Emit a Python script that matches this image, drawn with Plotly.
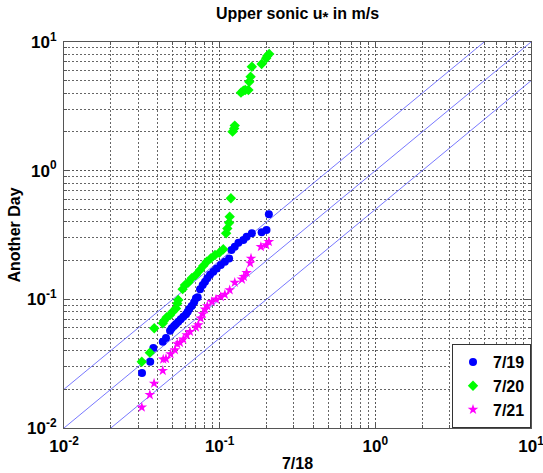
import plotly.graph_objects as go

# ---- data ----
blue_x = [0.0317, 0.0358, 0.0375, 0.0431, 0.0452, 0.048, 0.0492, 0.0509, 0.0524, 0.0542,
          0.0562, 0.0584, 0.0608, 0.0623, 0.0638, 0.0661, 0.0685, 0.0704, 0.0722, 0.0748,
          0.0778, 0.0805, 0.0833, 0.0867, 0.091, 0.0957, 0.1016, 0.108, 0.115, 0.119,
          0.125, 0.132, 0.142, 0.149, 0.161, 0.186, 0.200, 0.207]
blue_y = [0.0268, 0.0327, 0.0419, 0.0469, 0.0501, 0.057, 0.0596, 0.0621, 0.0643, 0.067,
          0.070, 0.0733, 0.0765, 0.0802, 0.0842, 0.0888, 0.095, 0.102, 0.104, 0.120,
          0.129, 0.137, 0.146, 0.155, 0.164, 0.174, 0.185, 0.196, 0.208, 0.242,
          0.256, 0.275, 0.289, 0.307, 0.326, 0.332, 0.346, 0.458]

green_x = [0.0316, 0.0356, 0.038, 0.0431, 0.0439, 0.0457, 0.048, 0.0499, 0.0524, 0.0534,
           0.0542, 0.0578, 0.0598, 0.0629, 0.0661, 0.0704, 0.0748, 0.0785, 0.0826, 0.0876,
           0.0933, 0.0995, 0.1055, 0.110, 0.112, 0.115, 0.116, 0.118, 0.121, 0.124,
           0.125, 0.137, 0.142, 0.146, 0.153, 0.155, 0.158, 0.161, 0.186, 0.199,
           0.202, 0.208]
green_y = [0.0327, 0.0385, 0.0596, 0.0652, 0.0683, 0.0725, 0.0755, 0.080, 0.085, 0.093,
           0.099, 0.120, 0.129, 0.135, 0.146, 0.155, 0.169, 0.182, 0.196, 0.208,
           0.221, 0.230, 0.245, 0.326, 0.356, 0.394, 0.439, 0.610, 2.01, 2.13,
           2.24, 4.04, 4.19, 4.24, 4.24, 4.91, 5.37, 6.43, 6.74, 7.47,
           7.78, 8.07]

mag_x = [0.0316, 0.0356, 0.0379, 0.0431, 0.0434, 0.0452, 0.0484, 0.0516, 0.0534, 0.0556,
         0.0584, 0.0614, 0.0645, 0.0704, 0.0729, 0.0755, 0.0778, 0.0805, 0.0833, 0.089,
         0.0947, 0.1016, 0.108, 0.116, 0.125, 0.139, 0.143, 0.149, 0.157, 0.159,
         0.184, 0.199, 0.207]
mag_y = [0.0145, 0.0181, 0.0222, 0.0279, 0.0342, 0.0345, 0.0376, 0.0404, 0.045, 0.046,
         0.0489, 0.0528, 0.056, 0.0606, 0.0632, 0.0713, 0.0769, 0.0836, 0.0887, 0.0958,
         0.100, 0.1047, 0.109, 0.118, 0.135, 0.143, 0.150, 0.161, 0.191, 0.208,
         0.256, 0.264, 0.280]

ref_ratios = [2.0, 1.0, 0.5]
decades = [-2, -1, 0, 1]
minor_mults = [2, 3, 4, 5, 6, 7, 8, 9]
title_text = "Upper sonic u<sub><span style='font-size:15px'>*</span></sub> in m/s"
x_label = "7/18"
y_label = "Another Day"

# ---- figure ----
fig = go.Figure()

lo, hi = 10.0 ** decades[0], 10.0 ** decades[-1]
for r in ref_ratios:
    xs = [max(lo, lo / r), min(hi, hi / r)]
    ys = [xv * r for xv in xs]
    fig.add_trace(go.Scatter(x=xs, y=ys, mode="lines",
                             line=dict(color="#5555ff", width=0.8),
                             showlegend=False, hoverinfo="skip"))

fig.add_trace(go.Scatter(x=blue_x, y=blue_y, mode="markers", name="7/19",
                         marker=dict(symbol="circle", size=8, color="#0000ff")))
fig.add_trace(go.Scatter(x=green_x, y=green_y, mode="markers", name="7/20",
                         marker=dict(symbol="diamond", size=8, color="#00ff00")))
fig.add_trace(go.Scatter(x=mag_x, y=mag_y, mode="markers", name="7/21",
                         marker=dict(symbol="star", size=8, color="#ff00ff")))

major_vals = [10.0 ** d for d in decades]
major_text = [f"10<sup>{d}</sup>" for d in decades]
minor_vals = [m * 10.0 ** d for d in decades[:-1] for m in minor_mults]

grid_dash = "2px,2px"
axis_common = dict(
    type="log",
    range=[decades[0], decades[-1]],
    tickmode="array", tickvals=major_vals, ticktext=major_text,
    showgrid=True, gridcolor="#555555", griddash=grid_dash, gridwidth=1,
    minor=dict(tickmode="array", tickvals=minor_vals, showgrid=True,
               gridcolor="#666666", griddash=grid_dash, gridwidth=1,
               ticks="inside", ticklen=3, tickcolor="#555555"),
    showline=True, linecolor="#555555", linewidth=1, mirror="ticks",
    ticks="inside", ticklen=5, tickcolor="#555555",
    tickfont=dict(family="Liberation Sans", size=17, color="black", weight="bold"),
    ticklabeloverflow="allow", ticklabelstandoff=3,
    zeroline=False, automargin=False,
)

title_font = dict(family="Liberation Sans", size=16, color="black", weight="bold")

fig.update_layout(
    width=543, height=473,
    margin=dict(l=64, r=12, t=42, b=45),
    plot_bgcolor="white", paper_bgcolor="white",
    title=dict(text=title_text, x=0.5, xanchor="center", y=0.972, yanchor="middle",
               xref="paper",
               font=dict(family="Liberation Sans", size=16, color="black", weight="bold")),
    xaxis=dict(axis_common, title=dict(text=x_label, standoff=2, font=title_font)),
    yaxis=dict(axis_common, title=dict(text=y_label, standoff=2, font=title_font)),
    legend=dict(x=1, y=0, xanchor="right", yanchor="bottom",
                bgcolor="white", bordercolor="#333333", borderwidth=1,
                font=dict(family="Liberation Sans", size=16, color="black", weight="bold"),
                itemwidth=30, tracegroupgap=0),
    showlegend=True,
)

fig.write_html("out.html")
